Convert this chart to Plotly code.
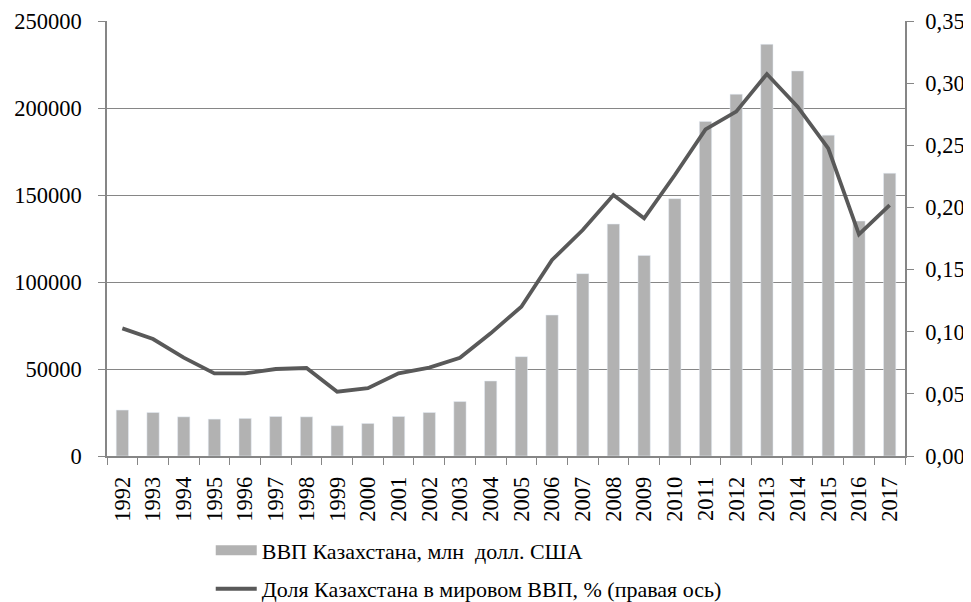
import plotly.graph_objects as go

years = [str(y) for y in range(1992, 2018)]
gdp = [26400, 25000, 22500, 21200, 21600, 22700, 22500, 17400, 18700, 22700,
       25000, 31300, 43100, 57100, 81000, 104800, 133300, 115300, 147900, 192300,
       207900, 236600, 221300, 184400, 135000, 162500]
share = [0.1027, 0.0941, 0.0791, 0.0665, 0.0665, 0.0700, 0.0708, 0.0517, 0.0545, 0.0665,
         0.0711, 0.0791, 0.0987, 0.1201, 0.1577, 0.1818, 0.2100, 0.1912, 0.2261, 0.2628,
         0.2771, 0.3073, 0.2811, 0.2475, 0.1784, 0.2019]

bar_name = "ВВП Казахстана, млн  долл. США"
line_name = "Доля Казахстана в мировом ВВП, % (правая ось)"

FONT = "Liberation Serif, Times New Roman, serif"
AX = "#868686"
BAR_C = "#b2b2b2"
TF = dict(family=FONT, size=22.5, color="black")

fig = go.Figure()
fig.add_trace(go.Bar(x=years, y=gdp, name=bar_name, marker_color=BAR_C,
                     width=0.4, showlegend=False, legendgroup="a"))
# legend entry for the bars (wide rectangle swatch, like the reference)
fig.add_trace(go.Scatter(x=[None], y=[None], name=bar_name, mode="lines",
                         line=dict(color=BAR_C, width=12), legendgroup="a",
                         hoverinfo="skip"))
fig.add_trace(go.Scatter(x=years, y=share, name=line_name, mode="lines",
                         line=dict(color="#595959", width=3.8), yaxis="y2",
                         legendgroup="b"))

fig.update_layout(
    width=971, height=602,
    margin=dict(l=99, r=74, t=13, b=154),
    plot_bgcolor="white", paper_bgcolor="white",
    font=dict(family=FONT, size=22, color="black"),
    separators=", ",
    xaxis=dict(type="category", showline=True, linecolor=AX, linewidth=1.5,
               ticks="outside", tickson="boundaries", ticklen=7, tickcolor=AX,
               tickangle=-90, showgrid=False, tickfont=TF, automargin=False,
               ticklabelstandoff=10),
    yaxis=dict(range=[0, 250000], dtick=50000, tickformat="d", showline=True,
               linecolor=AX, linewidth=1.5, ticks="outside", ticklen=7, tickcolor=AX,
               showgrid=True, gridcolor=AX, gridwidth=1.2, zeroline=False,
               tickfont=TF, automargin=False, ticklabelstandoff=12),
    yaxis2=dict(range=[0, 0.35], dtick=0.05, tickformat=".2f", overlaying="y",
                side="right", showline=True, linecolor=AX, linewidth=1.5,
                ticks="outside", ticklen=7, tickcolor=AX, showgrid=False,
                zeroline=False, tickfont=TF, automargin=False,
                ticklabelstandoff=7),
    legend=dict(orientation="v", x=0.130, y=0.134, xref="paper", yref="container",
                xanchor="left", yanchor="top", tracegroupgap=7, itemwidth=41,
                font=dict(family=FONT, size=22, color="black")),
    showlegend=True,
)

fig.write_html("out.html")
